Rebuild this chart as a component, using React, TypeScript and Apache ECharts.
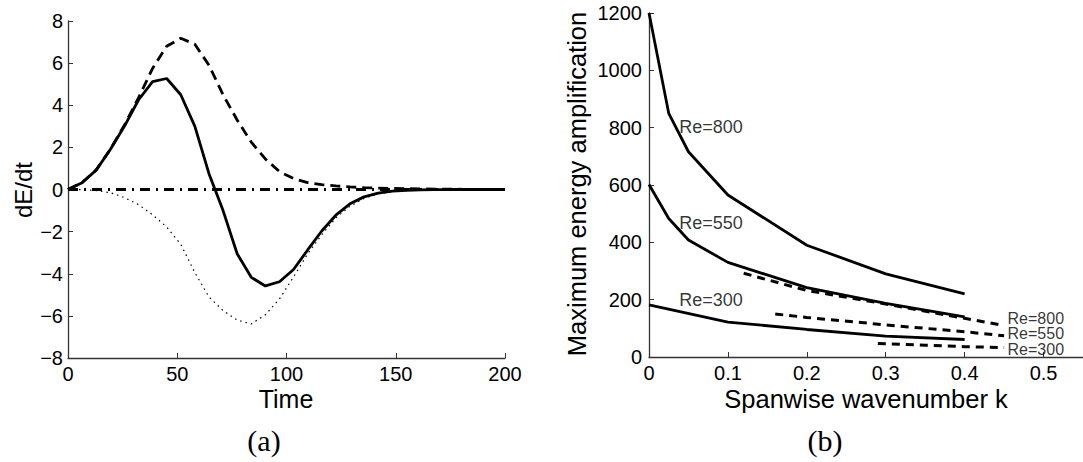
import React, { useEffect, useRef } from "react";
import * as echarts from "echarts";

// ---- Panel (a): dE/dt vs time ----
const timeA = [0, 6.45, 12.9, 19.35, 25.8, 32.26, 38.71, 45.16, 51.61, 58.06, 64.52, 70.97, 77.42, 83.87, 90.32, 96.77, 103.23, 109.68, 116.13, 122.58, 129.03, 135.48, 141.94, 148.39, 154.84, 161.29, 167.74, 174.19, 180.65, 187.1, 193.55, 200];
const totalA = [0, 0.32, 0.92, 1.9, 3.0, 4.25, 5.12, 5.27, 4.5, 3.0, 0.75, -1.0, -3.05, -4.17, -4.58, -4.38, -3.8, -2.87, -1.97, -1.22, -0.68, -0.35, -0.17, -0.08, -0.04, -0.02, -0.01, -0.01, 0, 0, 0, 0];
const productionA = [0, 0.33, 0.93, 1.9, 3.05, 4.35, 5.75, 6.8, 7.18, 6.9, 5.9, 4.5, 3.3, 2.25, 1.45, 0.85, 0.52, 0.33, 0.23, 0.17, 0.12, 0.09, 0.07, 0.05, 0.04, 0.03, 0.02, 0.02, 0.01, 0.01, 0.01, 0];
const dissipationA = [0, -0.01, -0.05, -0.15, -0.38, -0.72, -1.2, -1.78, -2.6, -3.95, -5.1, -5.75, -6.2, -6.38, -5.95, -5.2, -4.15, -3.05, -2.15, -1.35, -0.8, -0.42, -0.2, -0.1, -0.05, -0.03, -0.02, -0.01, -0.01, 0, 0, 0];
const zeroLineT = [0, 200];
const zeroLineV = [0, 0];

// ---- Panel (b): max energy amplification vs spanwise wavenumber ----
const kSolid = [0, 0.025, 0.05, 0.1, 0.2, 0.3, 0.4];
const re800Solid = [1200, 850, 716, 565, 390, 290, 220];
const re550Solid = [602, 483, 408, 330, 242, 187, 140];
const kRe300Solid = [0, 0.1, 0.2, 0.3, 0.4];
const re300Solid = [182, 122, 96, 73, 61];

const kRe800Dash = [0.12, 0.2, 0.3, 0.4, 0.45];
const re800Dash = [292, 232, 185, 135, 110];
const kRe550Dash = [0.16, 0.2, 0.3, 0.4, 0.45];
const re550Dash = [150, 138, 112, 88, 74];
const kRe300Dash = [0.29, 0.35, 0.4, 0.45];
const re300Dash = [47, 41, 36, 33];

// curve labels (solid curves, on the left)
const labelK = [0.039, 0.039, 0.039];
const labelV = [800, 467, 198];
const labelText = ["Re=800", "Re=550", "Re=300"];
// stacked labels of the dashed curves (one block)
const endLabelK = 0.455;
const endLabelV = 80;
const endLabelText = ["Re=800", "Re=550", "Re=300"];

const pairs = (xs: number[], ys: number[]) => xs.map((x, i) => [x, ys[i]]);

const SANS = "'Liberation Sans', Arial, Helvetica, sans-serif";
const AXIS_COLOR = "#333";

export default function App() {
  const ref = useRef<HTMLDivElement>(null);

  useEffect(() => {
    if (!ref.current) return;
    const chart = echarts.init(ref.current, undefined, { renderer: "svg" });

    const axisCommon = {
      axisLine: { show: true, onZero: false, lineStyle: { color: AXIS_COLOR, width: 1.3 } },
      axisTick: { show: true, inside: true, length: 5, lineStyle: { color: AXIS_COLOR } },
      splitLine: { show: false },
      axisLabel: { color: "#000", fontFamily: SANS, fontSize: 20, margin: 6 },
    };

    const solid = { color: "#000", width: 2.8, type: "solid" as const };
    const dashB = { color: "#000", width: 3, type: [8, 6] };
    const transparent = { color: "rgba(0,0,0,0)" };

    const option: any = {
      animation: false,
      backgroundColor: "#fff",
      grid: [
        { left: 68, top: 21, width: 437, height: 337 },
        { left: 649, top: 13, width: 434, height: 344 },
      ],
      xAxis: [
        {
          ...axisCommon,
          gridIndex: 0,
          type: "value",
          min: 0,
          max: 200,
          interval: 50,
          axisLabel: { ...axisCommon.axisLabel, formatter: (v: number) => String(v) },
        },
        {
          ...axisCommon,
          gridIndex: 1,
          type: "value",
          min: 0,
          max: 0.55,
          interval: 0.1,
          axisLabel: {
            ...axisCommon.axisLabel,
            showMaxLabel: false,
            formatter: (v: number) => (v === 0 ? "0" : v.toFixed(1)),
          },
        },
      ],
      yAxis: [
        {
          ...axisCommon,
          gridIndex: 0,
          type: "value",
          min: -8,
          max: 8,
          interval: 2,
          axisLabel: {
            ...axisCommon.axisLabel,
            margin: 5,
            formatter: (v: number) => (v < 0 ? "\u2212" + Math.abs(v) : String(v)),
          },
        },
        {
          ...axisCommon,
          gridIndex: 1,
          type: "value",
          min: 0,
          max: 1200,
          interval: 200,
          axisLabel: { ...axisCommon.axisLabel, margin: 7, formatter: (v: number) => String(v) },
        },
      ],
      series: [
        {
          type: "line",
          xAxisIndex: 0,
          yAxisIndex: 0,
          data: pairs(zeroLineT, zeroLineV),
          symbol: "none",
          lineStyle: { color: "#000", width: 3, type: [10, 6, 2, 6] },
        },
        {
          type: "line",
          xAxisIndex: 0,
          yAxisIndex: 0,
          data: pairs(timeA, dissipationA),
          symbol: "none",
          lineStyle: { color: "#000", width: 1.2, type: [1.5, 4] },
        },
        {
          type: "line",
          xAxisIndex: 0,
          yAxisIndex: 0,
          data: pairs(timeA, productionA),
          symbol: "none",
          lineStyle: { color: "#000", width: 2.8, type: [10, 6] },
        },
        {
          type: "line",
          xAxisIndex: 0,
          yAxisIndex: 0,
          data: pairs(timeA, totalA),
          symbol: "none",
          lineStyle: solid,
        },
        {
          type: "line",
          xAxisIndex: 1,
          yAxisIndex: 1,
          data: pairs(kSolid, re800Solid),
          symbol: "none",
          lineStyle: solid,
        },
        {
          type: "line",
          xAxisIndex: 1,
          yAxisIndex: 1,
          data: pairs(kSolid, re550Solid),
          symbol: "none",
          lineStyle: solid,
        },
        {
          type: "line",
          xAxisIndex: 1,
          yAxisIndex: 1,
          data: pairs(kRe300Solid, re300Solid),
          symbol: "none",
          lineStyle: solid,
        },
        {
          type: "line",
          xAxisIndex: 1,
          yAxisIndex: 1,
          data: pairs(kRe800Dash, re800Dash),
          symbol: "none",
          lineStyle: dashB,
        },
        {
          type: "line",
          xAxisIndex: 1,
          yAxisIndex: 1,
          data: pairs(kRe550Dash, re550Dash),
          symbol: "none",
          lineStyle: dashB,
        },
        {
          type: "line",
          xAxisIndex: 1,
          yAxisIndex: 1,
          data: pairs(kRe300Dash, re300Dash),
          symbol: "none",
          lineStyle: dashB,
        },
        {
          type: "scatter",
          xAxisIndex: 1,
          yAxisIndex: 1,
          symbolSize: 1,
          silent: true,
          data: labelK.map((k, i) => [k, labelV[i], labelText[i]]),
          itemStyle: transparent,
          label: {
            show: true,
            position: [0, 0],
            align: "left",
            verticalAlign: "middle",
            color: "#000",
            fontFamily: SANS,
            fontSize: 18,
            formatter: (p: any) => p.data[2],
          },
        },
        {
          type: "scatter",
          xAxisIndex: 1,
          yAxisIndex: 1,
          symbolSize: 1,
          silent: true,
          data: [[endLabelK, endLabelV, endLabelText.join("\n")]],
          itemStyle: transparent,
          label: {
            show: true,
            position: [0, 0],
            align: "left",
            verticalAlign: "middle",
            color: "#000",
            fontFamily: SANS,
            fontSize: 16,
            lineHeight: 15.5,
            formatter: (p: any) => p.data[2],
          },
        },
      ],
      graphic: [
        {
          type: "text",
          x: 23,
          y: 190,
          rotation: Math.PI / 2,
          style: { text: "dE/dt", font: `24px ${SANS}`, fill: "#000", textAlign: "center", textVerticalAlign: "middle" },
        },
        {
          type: "text",
          x: 286,
          y: 399,
          style: { text: "Time", font: `25px ${SANS}`, fill: "#000", textAlign: "center", textVerticalAlign: "middle" },
        },
        {
          type: "text",
          x: 264,
          y: 440,
          style: { text: "(a)", font: `30px "Liberation Serif", serif`, fill: "#000", textAlign: "center", textVerticalAlign: "middle" },
        },
        {
          type: "text",
          x: 577,
          y: 184,
          rotation: Math.PI / 2,
          style: { text: "Maximum energy amplification", font: `25.5px ${SANS}`, fill: "#000", textAlign: "center", textVerticalAlign: "middle" },
        },
        {
          type: "text",
          x: 866,
          y: 399,
          style: { text: "Spanwise wavenumber k", font: `25.5px ${SANS}`, fill: "#000", textAlign: "center", textVerticalAlign: "middle" },
        },
        {
          type: "text",
          x: 825,
          y: 440,
          style: { text: "(b)", font: `30px "Liberation Serif", serif`, fill: "#000", textAlign: "center", textVerticalAlign: "middle" },
        },
      ],
    };

    chart.setOption(option);
    return () => chart.dispose();
  }, []);

  return (
    <div
      ref={ref}
      style={{ position: "absolute", left: 0, top: 0, width: 1083, height: 462, background: "#fff" }}
    />
  );
}
